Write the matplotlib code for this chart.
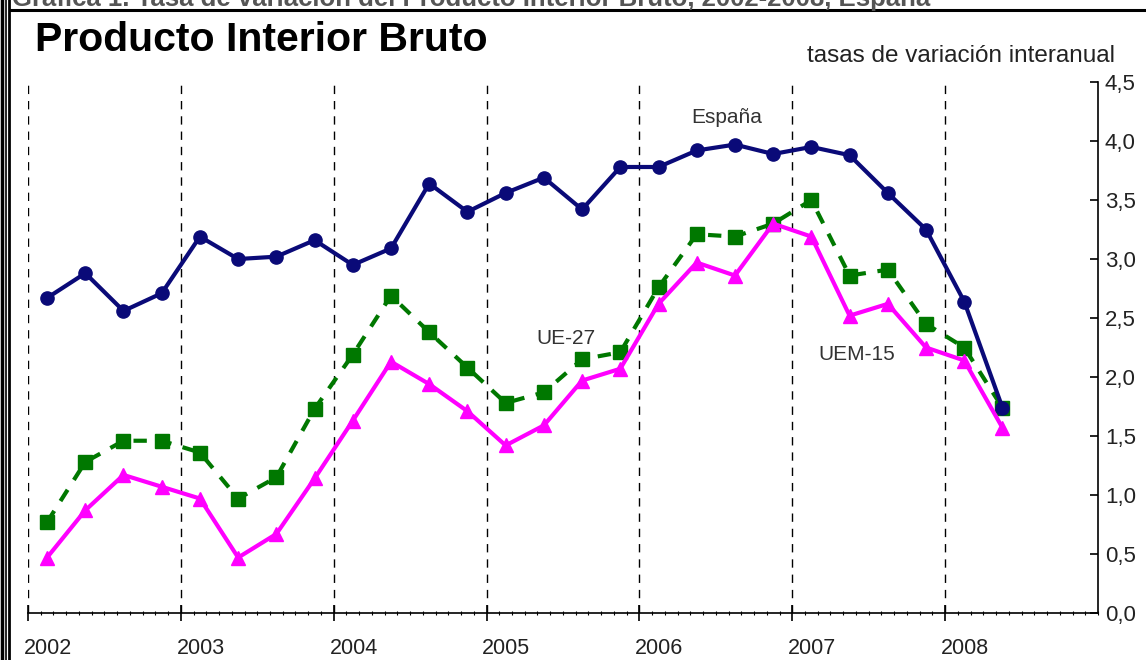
"""
Producto Interior Bruto: tasas de variacion interanual,
Espana, UE-27 y UEM-15, trimestral 2002-2008.
"""
import numpy as np
import matplotlib.pyplot as plt
from matplotlib.ticker import MultipleLocator, FixedLocator

plt.rcParams['font.family'] = ['Liberation Sans', 'DejaVu Sans']

years = [2002, 2003, 2004, 2005, 2006, 2007, 2008]
quarters = ['2002T1', '2002T2', '2002T3', '2002T4',
            '2003T1', '2003T2', '2003T3', '2003T4',
            '2004T1', '2004T2', '2004T3', '2004T4',
            '2005T1', '2005T2', '2005T3', '2005T4',
            '2006T1', '2006T2', '2006T3', '2006T4',
            '2007T1', '2007T2', '2007T3', '2007T4',
            '2008T1', '2008T2']
espana = [2.67, 2.88, 2.56, 2.71, 3.19, 3.00, 3.02, 3.16,
          2.95, 3.09, 3.64, 3.40, 3.56, 3.69, 3.42, 3.78,
          3.78, 3.92, 3.97, 3.89, 3.95, 3.88, 3.56, 3.25,
          2.64, 1.74]
ue27 = [0.77, 1.28, 1.46, 1.46, 1.36, 0.97, 1.15, 1.73,
        2.19, 2.69, 2.38, 2.08, 1.78, 1.87, 2.15, 2.21,
        2.76, 3.21, 3.19, 3.30, 3.50, 2.86, 2.91, 2.45,
        2.25, 1.74]
uem15 = [0.47, 0.87, 1.17, 1.07, 0.97, 0.47, 0.67, 1.14,
         1.63, 2.13, 1.94, 1.71, 1.42, 1.59, 1.97, 2.07,
         2.62, 2.97, 2.86, 3.30, 3.19, 2.52, 2.62, 2.25,
         2.14, 1.57]
y_ticks = [0.0, 0.5, 1.0, 1.5, 2.0, 2.5, 3.0, 3.5, 4.0, 4.5]


def quarter_position(label):
    """Centre of the quarter on a continuous year axis."""
    year = int(label[:4])
    q = int(label[-1])
    return year + (q - 0.5) / 4


def main():
    x = [quarter_position(q) for q in quarters]

    fig = plt.figure(figsize=(11.46, 6.6), dpi=100)
    ax = fig.add_axes([0.0244, 0.0712, 0.9337, 0.8045])

    # vertical dashed year lines
    for yr in years:
        ax.plot([yr, yr], [0, 4.5], color='black', lw=1,
                dashes=(6, 5), zorder=1)

    ax.plot(x, espana, color='#0a0a78', lw=3, marker='o', ms=9.5,
            zorder=4)
    ax.plot(x, ue27, color='#007800', lw=3, marker='s', ms=9.5,
            dashes=(3.2, 2.8), zorder=3)
    ax.plot(x, uem15, color='#ff00ff', lw=3, marker='^', ms=10,
            zorder=3)

    ax.set_xlim(2002, 2009)
    ax.set_ylim(0, 4.5)

    for side in ['left', 'top']:
        ax.spines[side].set_visible(False)
    ax.spines['right'].set_linewidth(1.2)
    ax.spines['bottom'].set_linewidth(1.2)

    ax.yaxis.tick_right()
    ax.set_yticks(y_ticks)
    ax.set_yticklabels([f'{v:.1f}'.replace('.', ',') for v in y_ticks],
                       fontsize=16, color='#222222')
    ax.tick_params(axis='y', direction='in', length=6, width=1.2, pad=5)

    ax.xaxis.set_major_locator(FixedLocator(years))
    ax.xaxis.set_minor_locator(MultipleLocator(1 / 12))
    ax.set_xticklabels([])
    ax.tick_params(axis='x', which='major', direction='inout',
                   length=12, width=1.2)
    ax.tick_params(axis='x', which='minor', direction='inout',
                   length=3, width=0.8)
    for yr in years:
        ax.text(yr + 0.13, -0.3, str(yr), ha='center', va='center',
                fontsize=15.5, color='#222222', clip_on=False)

    ax.text(2006.57, 4.20, 'España', ha='center', va='center',
            fontsize=15, color='#333333')
    ax.text(2005.52, 2.33, 'UE-27', ha='center', va='center',
            fontsize=15, color='#333333')
    ax.text(2007.42, 2.19, 'UEM-15', ha='center', va='center',
            fontsize=15, color='#333333')

    # header and frame
    fig.text(35 / 1146, 1 - 40 / 660, 'Producto Interior Bruto',
             fontsize=29.5, fontweight='bold', ha='left', va='center')
    fig.text(1115 / 1146, 1 - 56 / 660, 'tasas de variación interanual',
             fontsize=17.5, ha='right', va='center', color='#222222')
    fig.text(12 / 1146, 1 + 1 / 660,
             'Gráfica 1. Tasa de variación del Producto Interior Bruto, '
             '2002-2008, España',
             fontsize=18.5, fontweight='bold', color='#555555',
             ha='left', va='center')
    fig.add_artist(plt.Line2D([10 / 1146, 1], [1 - 10 / 660, 1 - 10 / 660],
                              transform=fig.transFigure, color='black',
                              lw=2.2))
    for px, w in [(1.5, 2.5), (5.5, 1.2), (9, 2.0)]:
        fig.add_artist(plt.Line2D([px / 1146, px / 1146], [0, 1],
                                  transform=fig.transFigure,
                                  color='black', lw=w))

    fig.savefig('out.png', dpi=100)


if __name__ == '__main__':
    main()
